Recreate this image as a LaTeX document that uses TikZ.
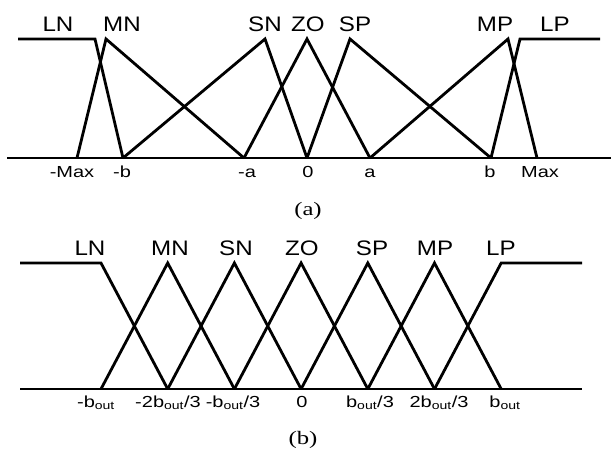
\documentclass[tikz,border=0pt]{standalone}
\usepackage{fontspec}
\setmainfont{Liberation Serif}
\newfontfamily\labfont[FakeStretch=1.15]{Liberation Sans}
\newfontfamily\tickfont[FakeStretch=1.25]{Liberation Sans}
\newfontfamily\capfont[FakeStretch=1.3]{Liberation Serif}

\begin{document}
\begin{tikzpicture}[x=1pt, y=-1pt,
  mf/.style={draw=black, line width=2.8pt, line join=miter},
  axisline/.style={draw=black, line width=2.8pt},
  head/.style={anchor=base, inner sep=0pt, font=\labfont\fontsize{21}{21}\selectfont},
  ticklab/.style={anchor=base, inner sep=0pt, font=\tickfont\fontsize{16}{16}\selectfont},
  capt/.style={anchor=base, inner sep=0pt, font=\capfont\fontsize{19}{19}\selectfont}]
\useasboundingbox (0,0) rectangle (611,450);
% (a) input sets
\foreach \n/\x in {mMax/77, mb/123, ma/244, zo/307, pa/370, pb/491, pMax/537}
  \coordinate (a-\n) at (\x,158);
\foreach \n/\x in {lnl/18, lnr/95, mn/106, sn/265, zo/307, sp/350, mp/508, lpl/520, lpr/600}
  \coordinate (a-top-\n) at (\x,39);
\coordinate (a-west) at (7,158);
\coordinate (a-east) at (611,158);
\draw[axisline] (a-west) -- (a-east);
\draw[mf] (a-top-lnl) -- (a-top-lnr) -- (a-mb);
\draw[mf] (a-mMax) -- (a-top-mn) -- (a-ma);
\draw[mf] (a-mb) -- (a-top-sn) -- (a-zo);
\draw[mf] (a-ma) -- (a-top-zo) -- (a-pa);
\draw[mf] (a-zo) -- (a-top-sp) -- (a-pb);
\draw[mf] (a-pa) -- (a-top-mp) -- (a-pMax);
\draw[mf] (a-pb) -- (a-top-lpl) -- (a-top-lpr);
\node[head] (a-hLN) at (58,31) {LN};
\node[head] (a-hMN) at (122,31) {MN};
\node[head] (a-hSN) at (265,31) {SN};
\node[head] (a-hZO) at (308,31) {ZO};
\node[head] (a-hSP) at (355,31) {SP};
\node[head] (a-hMP) at (495,31) {MP};
\node[head] (a-hLP) at (555,31) {LP};
\node[ticklab] (a-tmMax) at (72,177) {-Max};
\node[ticklab] (a-tmb) at (122,177) {-b};
\node[ticklab] (a-tma) at (247,177) {-a};
\node[ticklab] (a-tzo) at (308,177) {0};
\node[ticklab] (a-tpa) at (370,177) {a};
\node[ticklab] (a-tpb) at (490,177) {b};
\node[ticklab] (a-tpMax) at (540,177) {Max};
\node[capt] (a-cap) at (308,215) {(a)};
% (b) output sets
\foreach \i in {0,...,6} {
  \coordinate (b-\i) at ({101+66.7*\i},389);
  \coordinate (b-top-\i) at ({101+66.7*\i},263);
}
\coordinate (b-west) at (20,389);
\coordinate (b-east) at (582,389);
\coordinate (b-top-west) at (20,263);
\coordinate (b-top-east) at (582,263);
\draw[axisline] (b-west) -- (b-east);
\draw[mf] (b-top-west) -- (b-top-0) -- (b-1);
\foreach \l/\m/\r in {0/1/2, 1/2/3, 2/3/4, 3/4/5, 4/5/6}
  \draw[mf] (b-\l) -- (b-top-\m) -- (b-\r);
\draw[mf] (b-5) -- (b-top-6) -- (b-top-east);
\node[head] (b-hLN) at (90,255) {LN};
\node[head] (b-hMN) at (170,255) {MN};
\node[head] (b-hSN) at (236,255) {SN};
\node[head] (b-hZO) at (302,255) {ZO};
\node[head] (b-hSP) at (372,255) {SP};
\node[head] (b-hMP) at (435,255) {MP};
\node[head] (b-hLP) at (501,255) {LP};
\node[ticklab] (b-t0) at (96,407) {-b\textsubscript{out}};
\node[ticklab] (b-t1) at (168,407) {-2b\textsubscript{out}/3};
\node[ticklab] (b-t2) at (233,407) {-b\textsubscript{out}/3};
\node[ticklab] (b-t3) at (302,407) {0};
\node[ticklab] (b-t4) at (370,407) {b\textsubscript{out}/3};
\node[ticklab] (b-t5) at (439,407) {2b\textsubscript{out}/3};
\node[ticklab] (b-t6) at (505,407) {b\textsubscript{out}};
\node[capt] (b-cap) at (303,444) {(b)};
\end{tikzpicture}
\end{document}
